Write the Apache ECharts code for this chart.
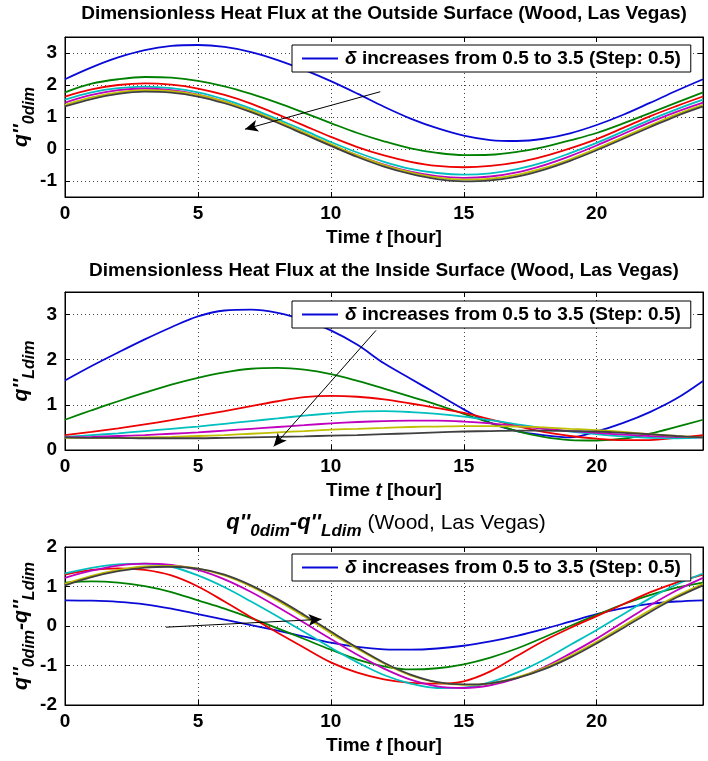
<!DOCTYPE html>
<html>
<head>
<meta charset="utf-8">
<script src="https://cdn.jsdelivr.net/npm/echarts@6/dist/echarts.min.js"></script>
<style>
  html, body { margin: 0; padding: 0; background: #fff; }
  #chart { width: 708px; height: 761px; }
</style>
</head>
<body>
<div id="chart"></div>
<script>
// Time axis (hours of the day)
const hours = [0,1,2,3,4,5,6,7,8,9,10,11,12,13,14,15,16,17,18,19,20,21,22,23,24];

// Outside-surface dimensionless heat flux, one array per delta (0.5 ... 3.5)
const out05 = [2.18,2.55,2.86,3.09,3.22,3.25,3.19,3.03,2.78,2.47,2.12,1.73,1.32,0.95,0.65,0.42,0.28,0.25,0.32,0.49,0.75,1.07,1.44,1.82,2.18];
const out10 = [1.77,2.04,2.18,2.25,2.23,2.13,1.96,1.72,1.44,1.13,0.81,0.50,0.24,0.02,-0.12,-0.19,-0.18,-0.09,0.06,0.27,0.50,0.80,1.12,1.45,1.77];
const out15 = [1.64,1.86,2.00,2.05,2.01,1.89,1.69,1.42,1.08,0.73,0.38,0.06,-0.20,-0.40,-0.53,-0.57,-0.53,-0.42,-0.23,0.02,0.31,0.66,1.02,1.34,1.64];
const out20 = [1.54,1.77,1.90,1.95,1.90,1.77,1.55,1.26,0.93,0.58,0.22,-0.11,-0.40,-0.62,-0.75,-0.80,-0.76,-0.63,-0.42,-0.13,0.19,0.55,0.91,1.24,1.54];
const out25 = [1.45,1.69,1.84,1.89,1.84,1.70,1.48,1.19,0.86,0.50,0.13,-0.20,-0.49,-0.71,-0.85,-0.90,-0.86,-0.73,-0.51,-0.22,0.11,0.47,0.83,1.16,1.45];
const out30 = [1.38,1.61,1.77,1.84,1.81,1.69,1.48,1.20,0.87,0.51,0.15,-0.20,-0.50,-0.73,-0.89,-0.96,-0.93,-0.81,-0.60,-0.32,0.01,0.37,0.73,1.08,1.38];
const out35 = [1.33,1.56,1.72,1.79,1.76,1.64,1.43,1.15,0.82,0.46,0.10,-0.25,-0.55,-0.78,-0.94,-1.01,-0.98,-0.86,-0.65,-0.37,-0.04,0.32,0.68,1.03,1.33];

// Inside-surface dimensionless heat flux
const in05 = [1.54,1.86,2.16,2.45,2.72,2.96,3.09,3.11,3.04,2.88,2.65,2.33,1.92,1.58,1.24,0.90,0.60,0.42,0.33,0.28,0.41,0.60,0.84,1.14,1.53];
const in10 = [0.67,0.88,1.08,1.27,1.45,1.60,1.72,1.80,1.82,1.78,1.68,1.53,1.36,1.18,1.00,0.80,0.60,0.42,0.29,0.22,0.21,0.25,0.36,0.51,0.67];
const in15 = [0.33,0.40,0.48,0.57,0.66,0.76,0.86,0.97,1.08,1.17,1.20,1.18,1.12,1.03,0.93,0.82,0.68,0.53,0.40,0.31,0.25,0.22,0.22,0.27,0.33];
const in20 = [0.29,0.33,0.37,0.42,0.47,0.52,0.58,0.64,0.70,0.76,0.81,0.85,0.86,0.84,0.80,0.74,0.66,0.57,0.48,0.41,0.35,0.30,0.27,0.26,0.28];
const in25 = [0.28,0.29,0.31,0.33,0.36,0.39,0.43,0.47,0.51,0.55,0.59,0.62,0.64,0.65,0.65,0.63,0.59,0.53,0.47,0.42,0.38,0.34,0.31,0.29,0.28];
const in30 = [0.27,0.27,0.27,0.28,0.29,0.31,0.33,0.36,0.39,0.42,0.45,0.47,0.49,0.51,0.52,0.53,0.53,0.52,0.50,0.47,0.44,0.40,0.35,0.31,0.28];
const in35 = [0.28,0.27,0.27,0.26,0.26,0.26,0.27,0.28,0.29,0.30,0.32,0.33,0.35,0.37,0.39,0.41,0.42,0.43,0.43,0.42,0.41,0.38,0.35,0.31,0.28];

// Net flux: outside minus inside
const diff05 = [0.65,0.64,0.61,0.55,0.44,0.30,0.16,0.02,-0.12,-0.27,-0.42,-0.53,-0.59,-0.60,-0.57,-0.50,-0.39,-0.25,-0.08,0.11,0.30,0.45,0.56,0.62,0.65];
const diff10 = [1.10,1.13,1.10,1.01,0.86,0.65,0.44,0.20,-0.06,-0.33,-0.60,-0.85,-1.02,-1.10,-1.07,-0.97,-0.80,-0.57,-0.29,0.00,0.28,0.55,0.78,0.97,1.10];
const diff15 = [1.30,1.42,1.46,1.42,1.28,1.00,0.62,0.22,-0.17,-0.55,-0.92,-1.18,-1.35,-1.44,-1.46,-1.40,-1.15,-0.76,-0.38,-0.05,0.25,0.55,0.85,1.10,1.30];
const diff20 = [1.33,1.47,1.56,1.58,1.50,1.28,0.98,0.62,0.24,-0.15,-0.55,-0.92,-1.24,-1.46,-1.57,-1.56,-1.42,-1.18,-0.86,-0.48,-0.10,0.30,0.70,1.05,1.33];
const diff25 = [1.22,1.40,1.53,1.58,1.55,1.42,1.18,0.86,0.48,0.08,-0.33,-0.73,-1.08,-1.36,-1.53,-1.57,-1.50,-1.32,-1.05,-0.70,-0.32,0.10,0.52,0.90,1.22];
const diff30 = [1.07,1.27,1.42,1.51,1.52,1.45,1.28,1.00,0.64,0.24,-0.18,-0.58,-0.95,-1.25,-1.43,-1.49,-1.45,-1.30,-1.07,-0.76,-0.40,0.00,0.40,0.76,1.07];
const diff35 = [1.03,1.24,1.39,1.48,1.50,1.45,1.30,1.03,0.68,0.28,-0.14,-0.55,-0.93,-1.23,-1.42,-1.48,-1.45,-1.32,-1.10,-0.80,-0.44,-0.05,0.35,0.72,1.03];

// Arrow annotations showing the direction of increasing delta [start, tip]
const arrowOutside = [[11.86, 1.79], [6.77, 0.62]];
const arrowInside  = [[11.7, 2.65], [7.85, 0.08]];
const arrowDiff    = [[3.8, -0.03], [9.65, 0.17]];

const legendText = 'δ increases from 0.5 to 3.5 (Step: 0.5)';

const FONT = '"Liberation Sans", Arial, Helvetica, sans-serif';
const lineColors = ['#0a0ad8', '#008000', '#ee0000', '#00bfbf', '#bf00bf', '#bfbf00', '#404040'];

// Rich-text styles for q'' labels with subscripts
const titleRich = {
  q: { fontFamily: FONT, fontSize: 22, fontWeight: 'bold', fontStyle: 'italic', color: '#000', verticalAlign: 'bottom', padding: [0, 0, 6, 0] },
  s: { fontFamily: FONT, fontSize: 17, fontWeight: 'bold', fontStyle: 'italic', color: '#000', verticalAlign: 'bottom' },
  n: { fontFamily: FONT, fontSize: 21, fontWeight: 'normal', color: '#000', verticalAlign: 'bottom', padding: [0, 0, 6, 0] }
};
const yNameRich = {
  q: { fontFamily: FONT, fontSize: 21, fontWeight: 'bold', fontStyle: 'italic', color: '#000', verticalAlign: 'bottom', padding: [0, 0, 6, 0] },
  s: { fontFamily: FONT, fontSize: 16, fontWeight: 'bold', fontStyle: 'italic', color: '#000', verticalAlign: 'bottom' }
};

const panels = [
  { top: 37, height: 160, min: -1.5, max: 3.5, curves: [out05, out10, out15, out20, out25, out30, out35], arrow: arrowOutside,
    yName: "{q|q''}{s|0dim}", title: 'Dimensionless Heat Flux at the Outside Surface (Wood, Las Vegas)', titleTop: 4, legendTop: 45 },
  { top: 292, height: 158, min: 0, max: 3.5, curves: [in05, in10, in15, in20, in25, in30, in35], arrow: arrowInside,
    yName: "{q|q''}{s|Ldim}", title: 'Dimensionless Heat Flux at the Inside Surface (Wood, Las Vegas)', titleTop: 261, legendTop: 301 },
  { top: 547, height: 158, min: -2, max: 2, curves: [diff05, diff10, diff15, diff20, diff25, diff30, diff35], arrow: arrowDiff,
    yName: "{q|q''}{s|0dim}{q|-q''}{s|Ldim}", title: "{q|q''}{s|0dim}{q|-q''}{s|Ldim}{n| (Wood, Las Vegas)}", titleTop: 512, legendTop: 554, richTitle: true }
];

const LEFT = 65, RIGHT = 5;
const grid = [], xAxis = [], yAxis = [], series = [], title = [], legend = [];

panels.forEach((p, i) => {
  grid.push({ left: LEFT, right: RIGHT, top: p.top, height: p.height, show: true, borderColor: '#000', borderWidth: 1,
    backgroundColor: '#fff', containLabel: false, outerBoundsMode: 'none' });

  title.push(p.richTitle
    ? { text: p.title, left: 386, top: p.titleTop, textAlign: 'center', padding: 0, textStyle: { rich: titleRich } }
    : { text: p.title, left: 384, top: p.titleTop, textAlign: 'center', padding: 0,
        textStyle: { fontFamily: FONT, fontSize: 19, fontWeight: 'bold', color: '#000' } });

  legend.push({
    data: [legendText], left: 292, top: p.legendTop, orient: 'horizontal',
    icon: 'rect', itemWidth: 36, itemHeight: 2, padding: [4, 10, 4, 10],
    backgroundColor: '#fff', borderColor: '#000', borderWidth: 1, borderRadius: 0,
    selectedMode: false,
    formatter: name => name.replace('δ', '{d|δ}'),
    textStyle: { fontFamily: FONT, fontSize: 19, fontWeight: 'bold', color: '#000', padding: [0, 0, 0, 2],
      rich: { d: { fontFamily: FONT, fontSize: 19, fontStyle: 'italic', color: '#000' } } }
  });

  xAxis.push({
    gridIndex: i, type: 'value', min: 0, max: 24, interval: 5,
    axisLine: { show: true, onZero: false, lineStyle: { color: '#000', width: 1 } },
    axisTick: { show: true, inside: true, length: 5, lineStyle: { color: '#000' } },
    axisLabel: { color: '#000', fontFamily: FONT, fontSize: 19, fontWeight: 'bold', margin: 7, showMaxLabel: false },
    splitLine: { show: true, lineStyle: { color: '#444', width: 1, type: [1, 3] } },
    name: '{n|Time }{i|t}{n| [hour]}', nameLocation: 'middle', nameGap: 31, nameMoveOverlap: false,
    nameTextStyle: { rich: {
      n: { fontFamily: FONT, fontSize: 19, fontWeight: 'bold', color: '#000' },
      i: { fontFamily: FONT, fontSize: 19, fontWeight: 'bold', fontStyle: 'italic', color: '#000' } } }
  });

  const yBase = {
    gridIndex: i, type: 'value', min: p.min, max: p.max,
    axisLine: { show: true, onZero: false, lineStyle: { color: '#000', width: 1 } },
    axisTick: { show: true, inside: true, length: 5, lineStyle: { color: '#000' } }
  };
  yAxis.push(Object.assign({}, yBase, {
    minInterval: 1, maxInterval: 1,
    axisLabel: { color: '#000', fontFamily: FONT, fontSize: 19, fontWeight: 'bold', margin: 8, showMinLabel: Number.isInteger(p.min), showMaxLabel: Number.isInteger(p.max) },
    splitLine: { show: true, lineStyle: { color: '#444', width: 1, type: [1, 3] } },
    name: p.yName, nameLocation: 'middle', nameRotate: 90, nameGap: 27, nameMoveOverlap: false,
    nameTextStyle: { rich: yNameRich }
  }));

  p.curves.forEach((vals, k) => {
    const s = {
      type: 'line', name: k === 0 ? legendText : 'delta' + (k + 1),
      xAxisIndex: i, yAxisIndex: i,
      data: hours.map((h, j) => [h, vals[j]]),
      smooth: 0.35, showSymbol: false, symbol: 'none',
      lineStyle: { color: lineColors[k], width: 1.8 }, itemStyle: { color: lineColors[k] },
      emphasis: { disabled: true }, silent: true, z: 2 + k * 0.01
    };
    if (k === p.curves.length - 1) {
      s.markLine = {
        silent: true, symbol: ['none', 'arrow'], symbolSize: [9, 13], animation: false,
        label: { show: false },
        lineStyle: { color: '#000', width: 1, type: 'solid' },
        emphasis: { disabled: true },
        data: [[{ coord: p.arrow[0] }, { coord: p.arrow[1] }]]
      };
    }
    series.push(s);
  });
});

// Box ticks along the top and right edges of each panel
panels.forEach((p, i) => {
  xAxis.push({ gridIndex: i, type: 'value', position: 'top', min: 0, max: 24, interval: 5,
    axisLine: { show: true, onZero: false, lineStyle: { color: '#000' } },
    axisTick: { show: true, inside: true, length: 5, lineStyle: { color: '#000' } },
    axisLabel: { show: false }, splitLine: { show: false } });
  yAxis.push({ gridIndex: i, type: 'value', position: 'right', min: p.min, max: p.max, minInterval: 1, maxInterval: 1,
    axisLine: { show: true, onZero: false, lineStyle: { color: '#000' } },
    axisTick: { show: true, inside: true, length: 5, lineStyle: { color: '#000' } },
    axisLabel: { show: false }, splitLine: { show: false } });
});

const chart = echarts.init(document.getElementById('chart'), null, { renderer: 'canvas' });
chart.setOption({
  animation: false,
  backgroundColor: '#fff',
  title, legend, grid, xAxis, yAxis, series
});
</script>
</body>
</html>
